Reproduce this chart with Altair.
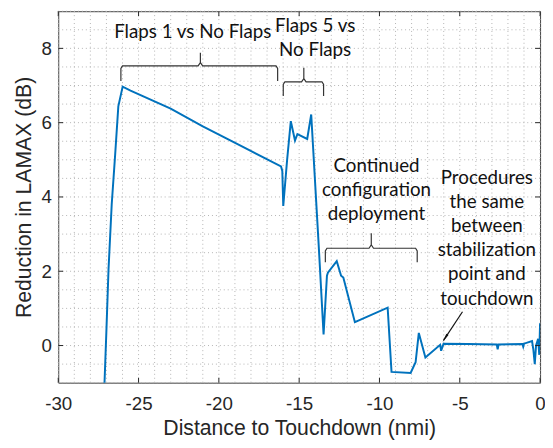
import altair as alt
import pandas as pd

# ---- data ----
dist = [-27.25, -27.12, -27.01, -26.87, -26.67, -26.46, -26.26, -25.99, -25.5, -23.0, -21.0,
        -18.5, -16.13, -16.05, -15.99, -15.75, -15.52, -15.26, -15.11, -14.5, -14.25, -13.78,
        -13.48, -13.27, -13.21, -12.66, -12.39, -12.25, -11.53, -9.49, -9.25, -8.06, -7.75,
        -7.55, -7.14, -6.22, -6.16, -6.01, -4.5, -2.7, -2.64, -2.58, -1.1, -1.05, -1.0, -0.5,
        -0.42, -0.33, -0.25, -0.12, -0.05, 0.0]
reduction = [-1.5, -1.0, 0.30, 2.05, 3.81, 5.12, 6.44, 6.97, 6.86, 6.38, 5.90,
             5.35, 4.82, 4.70, 3.76, 5.0, 6.04, 5.52, 5.69, 5.56, 6.22, 2.67,
             0.30, 1.88, 1.96, 2.27, 1.88, 1.83, 0.63, 1.02, -0.71, -0.74, -0.45,
             0.34, -0.32, 0.02, -0.14, 0.05, 0.04, 0.03, -0.10, 0.03, 0.04, -0.03, 0.05, 0.12,
             -0.10, -0.50, 0.00, 0.18, -0.25, 0.60]

x_ticks = [-30, -25, -20, -15, -10, -5, 0]
y_ticks = [0, 2, 4, 6, 8]

# annotations (y = first text line)
note_text = ["Flaps 1 vs No Flaps", "Flaps 5 vs\nNo Flaps",
             "Continued\nconfiguration\ndeployment",
             "Procedures\nthe same\nbetween\nstabilization\npoint and\ntouchdown"]
note_x = [-21.87, -14.25, -10.43, -3.56]
note_y = [8.43, 8.59, 4.84, 4.51]

brace_x0 = [-26.10, -15.99, -13.37]
brace_x1 = [-16.34, -13.48, -7.65]
brace_xc = [-21.15, -14.71, -10.51]
brace_bar = [7.53, 7.10, 2.62]
brace_leg = [7.12, 6.72, 2.24]
brace_tip = [7.88, 7.48, 3.02]

arrow_x = [-4.83, -6.01]
arrow_y = [0.91, 0.14]

# ---- layout ----
W, H = 489, 377
XDOM = [-30, 0]
YDOM = [-1, 9]
TXT = "#262626"
GRID = "#b4b4b4"

xs = alt.Scale(domain=XDOM, nice=False, zero=False)
ys = alt.Scale(domain=YDOM, nice=False, zero=False)

minor_x = [float(XDOM[0] + i) for i in range(31)]
minor_y = [float(YDOM[0] + 0.5 * i) for i in range(21)]

line_df = pd.DataFrame({"d": dist, "r": reduction})

x_axis = alt.Axis(values=minor_x, grid=False, ticks=False, domain=False,
                  labelExpr="(datum.value % 5 == 0) ? ('' + datum.value) : ''",
                  labelFont="Liberation Sans", labelFontSize=19, labelColor=TXT,
                  labelPadding=12, labelFlush=False, labelOverlap=False,
                  title="Distance to Touchdown (nmi)", titleFont="Liberation Sans",
                  titleFontSize=21.5, titleFontWeight="normal", titleColor=TXT,
                  titlePadding=5)
y_axis = alt.Axis(values=minor_y, grid=False, ticks=False, domain=False,
                  labelExpr="(datum.value % 2 == 0) ? ('' + datum.value) : ''",
                  labelFont="Liberation Sans", labelFontSize=19, labelColor=TXT,
                  labelPadding=7, labelFlush=False, labelOverlap=False,
                  title="Reduction in LAMAX (dB)", titleFont="Liberation Sans",
                  titleFontSize=21.5, titleFontWeight="normal", titleColor=TXT,
                  titlePadding=6)


def X(f):
    return alt.X(f, scale=xs, axis=x_axis)


def Y(f):
    return alt.Y(f, scale=ys, axis=y_axis)


# dotted grid
gx = alt.Chart(pd.DataFrame({"v": minor_x})).mark_rule(
    color=GRID, strokeWidth=1, strokeDash=[1, 3]).encode(
    x=X("v:Q"), y=alt.value(0), y2=alt.value(H))
gy = alt.Chart(pd.DataFrame({"v": minor_y})).mark_rule(
    color=GRID, strokeWidth=1, strokeDash=[1, 3]).encode(
    y=Y("v:Q"), x=alt.value(0), x2=alt.value(W))

main = alt.Chart(line_df).mark_line(color="#0072BD", strokeWidth=2, clip=True).encode(
    x=X("d:Q"), y=Y("r:Q"))

# inward ticks (MATLAB style)
xt = pd.DataFrame({"v": x_ticks})
yt = pd.DataFrame({"v": y_ticks})
tick_style = dict(color=TXT, strokeWidth=1)
tb = alt.Chart(xt).mark_rule(**tick_style).encode(
    x=X("v:Q"), y=alt.value(H), y2=alt.value(H - 5))
tt = alt.Chart(xt).mark_rule(**tick_style).encode(
    x=X("v:Q"), y=alt.value(0), y2=alt.value(5))
tl = alt.Chart(yt).mark_rule(**tick_style).encode(
    y=Y("v:Q"), x=alt.value(0), x2=alt.value(5))
tr = alt.Chart(yt).mark_rule(**tick_style).encode(
    y=Y("v:Q"), x=alt.value(W - 5), x2=alt.value(W))

# braces built from their spans
rows = []
for b in range(len(brace_x0)):
    x0, x1, xc = brace_x0[b], brace_x1[b], brace_xc[b]
    yb, yl, yt_ = brace_bar[b], brace_leg[b], brace_tip[b]
    pts = [(x0, yl), (x0, yb - 0.07), (x0 + 0.1, yb), (xc - 0.14, yb), (xc, yb + 0.09),
           (xc, yt_), (xc, yb + 0.09), (xc + 0.14, yb), (x1 - 0.1, yb), (x1, yb - 0.07),
           (x1, yl)]
    for k, (px, py) in enumerate(pts):
        rows.append({"b": b, "o": k, "x": px, "y": py})
brace_df = pd.DataFrame(rows)
braces = alt.Chart(brace_df).mark_line(color="#333333", strokeWidth=1.2).encode(
    x=X("x:Q"), y=Y("y:Q"), detail="b:N", order="o:Q")

notes_df = pd.DataFrame({"t": note_text, "x": note_x, "y": note_y})
notes = alt.Chart(notes_df).mark_text(font="Lato", fontSize=19, color="#111111",
                                      lineBreak="\n", lineHeight=24.5, dx=4,
                                      align="center", baseline="middle").encode(
    x=X("x:Q"), y=Y("y:Q"), text="t:N")

arrow_df = pd.DataFrame({"x": arrow_x, "y": arrow_y, "o": [0, 1]})
arrow = alt.Chart(arrow_df).mark_line(color="#111111", strokeWidth=1.2).encode(
    x=X("x:Q"), y=Y("y:Q"), order="o:Q")
fx = (arrow_x[1] - arrow_x[0])
fy = (arrow_y[1] - arrow_y[0])
head_df = pd.DataFrame({"x": [arrow_x[1] - 0.12 * fx], "y": [arrow_y[1] - 0.12 * fy]})
head = alt.Chart(head_df).mark_point(shape="wedge", filled=True, size=110, angle=213,
                                     color="#111111", opacity=1, strokeWidth=0).encode(
    x=X("x:Q"), y=Y("y:Q"))

chart = alt.layer(gx, gy, main, braces, notes, arrow, head, tb, tt, tl, tr).properties(
    width=W, height=H,
    autosize=alt.AutoSizeParams(type="none"),
    padding={"left": 51, "top": 0, "right": 5, "bottom": 62},
).configure_view(stroke="#404040", strokeWidth=1)

chart.save("out.html", embed_options={"renderer": "svg", "actions": False})
